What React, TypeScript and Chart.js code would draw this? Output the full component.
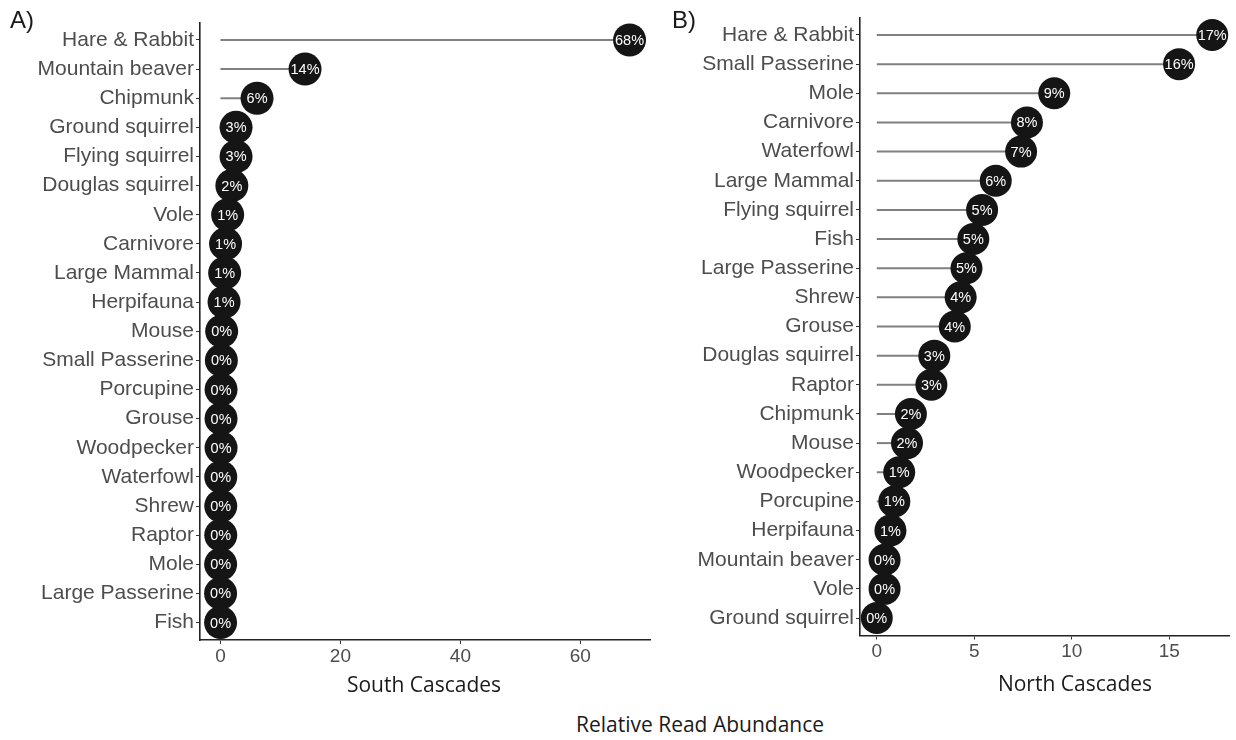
import React, { useEffect, useRef } from "react";
import { Chart, registerables } from "chart.js";

Chart.register(...registerables);

// South Cascades: relative read abundance (%) by prey group
const southCategories = [
  "Hare & Rabbit", "Mountain beaver", "Chipmunk", "Ground squirrel", "Flying squirrel",
  "Douglas squirrel", "Vole", "Carnivore", "Large Mammal", "Herpifauna", "Mouse",
  "Small Passerine", "Porcupine", "Grouse", "Woodpecker", "Waterfowl", "Shrew",
  "Raptor", "Mole", "Large Passerine", "Fish",
];
const southValues = [
  68.2, 14.1, 6.1, 2.6, 2.6, 1.9, 1.2, 0.85, 0.7, 0.6, 0.2,
  0.15, 0.1, 0.1, 0.1, 0.05, 0.05, 0.05, 0.03, 0.02, 0.02,
];
const southTicks = [0, 20, 40, 60];

// North Cascades: relative read abundance (%) by prey group
const northCategories = [
  "Hare & Rabbit", "Small Passerine", "Mole", "Carnivore", "Waterfowl", "Large Mammal",
  "Flying squirrel", "Fish", "Large Passerine", "Shrew", "Grouse", "Douglas squirrel",
  "Raptor", "Chipmunk", "Mouse", "Woodpecker", "Porcupine", "Herpifauna",
  "Mountain beaver", "Vole", "Ground squirrel",
];
const northValues = [
  17.2, 15.5, 9.1, 7.7, 7.4, 6.1, 5.4, 4.95, 4.6, 4.3, 4.0, 2.95,
  2.8, 1.75, 1.55, 1.15, 0.9, 0.7, 0.4, 0.4, 0.0,
];
const northTicks = [0, 5, 10, 15];

const TICK_COLOR = "#4d4d4d";
const AXIS_COLOR = "#222222";
const LABEL_FONT = "'Liberation Sans', Arial, sans-serif";
const TITLE_FONT = "'Open Sans', 'Noto Sans', sans-serif";

// Stems from zero to each point, then percentage labels on top of the dots
const lollipopPlugin = {
  id: "lollipop",
  beforeDatasetsDraw(chart: any) {
    const { ctx, scales } = chart;
    const x = scales.x;
    const y = scales.y;
    const pts = chart.data.datasets[0].data as { x: number; y: number }[];
    ctx.save();
    ctx.strokeStyle = "#808080";
    ctx.lineWidth = 2;
    const x0 = x.getPixelForValue(0);
    pts.forEach((p) => {
      const py = y.getPixelForValue(p.y);
      ctx.beginPath();
      ctx.moveTo(x0, py);
      ctx.lineTo(x.getPixelForValue(p.x), py);
      ctx.stroke();
    });
    ctx.restore();
  },
  afterDatasetsDraw(chart: any) {
    const { ctx, scales } = chart;
    const x = scales.x;
    const y = scales.y;
    const pts = chart.data.datasets[0].data as { x: number; y: number }[];
    ctx.save();
    ctx.fillStyle = "#ffffff";
    ctx.font = `14.5px ${LABEL_FONT}`;
    ctx.textAlign = "center";
    ctx.textBaseline = "middle";
    pts.forEach((p) => {
      ctx.fillText(`${Math.round(p.x)}%`, x.getPixelForValue(p.x), y.getPixelForValue(p.y) + 1);
    });
    ctx.restore();
  },
};

type PanelProps = {
  categories: string[];
  values: number[];
  ticks: number[];
  left: number;
  width: number;
  height: number;
  padTop: number;
  padRight: number;
  xAxisHeight: number;
  radius: number;
};

function LollipopPanel(props: PanelProps) {
  const ref = useRef<HTMLCanvasElement | null>(null);

  useEffect(() => {
    const { categories, values, ticks, padTop, padRight, xAxisHeight, radius } = props;
    const maxVal = Math.max(...values);
    const n = categories.length;
    const chart = new Chart(ref.current as HTMLCanvasElement, {
      type: "scatter",
      data: {
        datasets: [
          {
            data: values.map((v, i) => ({ x: v, y: i })),
            pointRadius: radius,
            pointHoverRadius: radius,
            backgroundColor: "#151515",
            borderWidth: 0,
            clip: false as any,
          },
        ],
      },
      options: {
        responsive: false,
        animation: false,
        events: [],
        layout: { autoPadding: false, padding: { top: padTop, right: padRight, bottom: 0, left: 0 } },
        plugins: { legend: { display: false }, tooltip: { enabled: false } },
        scales: {
          x: {
            type: "linear",
            min: -0.05 * maxVal,
            max: 1.05 * maxVal,
            afterBuildTicks: (s: any) => {
              s.ticks = ticks.map((v) => ({ value: v }));
            },
            afterFit: (s: any) => {
              s.height = xAxisHeight;
            },
            grid: { drawOnChartArea: false, drawTicks: true, tickLength: 4, color: "#333333", lineWidth: 1 },
            border: { display: true, color: AXIS_COLOR, width: 1.6 },
            ticks: { color: TICK_COLOR, font: { family: LABEL_FONT, size: 19 }, padding: 1, maxRotation: 0 },
          },
          y: {
            type: "linear",
            reverse: true,
            min: -0.6,
            max: n - 1 + 0.6,
            afterBuildTicks: (s: any) => {
              s.ticks = categories.map((_, i) => ({ value: i }));
            },
            afterFit: (s: any) => {
              s.width = 200;
            },
            grid: { drawOnChartArea: false, drawTicks: true, tickLength: 4, color: "#333333", lineWidth: 1 },
            border: { display: true, color: AXIS_COLOR, width: 1.6 },
            ticks: {
              color: TICK_COLOR,
              font: { family: LABEL_FONT, size: 21 },
              padding: 2,
              autoSkip: false,
              callback: (v: any) => categories[v as number] ?? "",
            },
          },
        },
      },
      plugins: [lollipopPlugin],
    });
    return () => chart.destroy();
  }, []);

  return (
    <canvas
      ref={ref}
      width={props.width}
      height={props.height}
      style={{ position: "absolute", left: props.left, top: 0, width: props.width, height: props.height }}
    />
  );
}

const textStyle = (left: number, top: number, size: number, family: string): React.CSSProperties => ({
  position: "absolute",
  left,
  top,
  fontFamily: family,
  fontSize: size,
  lineHeight: `${size}px`,
  color: "#1a1a1a",
  whiteSpace: "nowrap",
});

export default function App() {
  return (
    <div style={{ position: "absolute", left: 0, top: 0, width: 1236, height: 740, background: "#ffffff", overflow: "hidden" }}>
      <LollipopPanel
        categories={southCategories}
        values={southValues}
        ticks={southTicks}
        left={0}
        width={660}
        height={700}
        padTop={22.5}
        padRight={10}
        xAxisHeight={60}
        radius={16.5}
      />
      <LollipopPanel
        categories={northCategories}
        values={northValues}
        ticks={northTicks}
        left={660}
        width={576}
        height={700}
        padTop={17.5}
        padRight={7}
        xAxisHeight={64.5}
        radius={16}
      />
      <div style={textStyle(10, 8, 24, LABEL_FONT)}>A)</div>
      <div style={textStyle(672, 8, 24, LABEL_FONT)}>B)</div>
      <div style={{ ...textStyle(0, 674, 21, TITLE_FONT), left: 424, transform: "translateX(-50%)" }}>South Cascades</div>
      <div style={{ ...textStyle(0, 673, 21, TITLE_FONT), left: 1075, transform: "translateX(-50%)" }}>North Cascades</div>
      <div style={{ ...textStyle(0, 714, 21, TITLE_FONT), left: 700, transform: "translateX(-50%)" }}>Relative Read Abundance</div>
    </div>
  );
}
